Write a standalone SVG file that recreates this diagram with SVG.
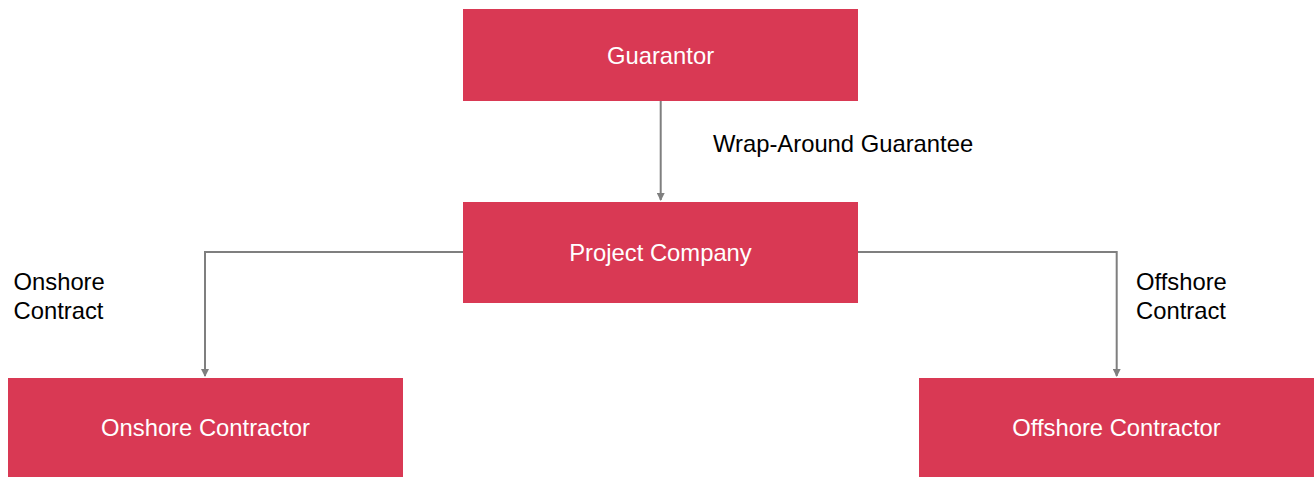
<svg xmlns="http://www.w3.org/2000/svg" width="1314" height="477" viewBox="0 0 1314 477">
<style>
.box{fill:#d93954}
.nt{font-family:"Liberation Sans",Arial,sans-serif;font-size:23.8px;fill:#ffffff;text-anchor:middle}
.lt{font-family:"Liberation Sans",Arial,sans-serif;font-size:23.8px;fill:#000000}
.ln{fill:none;stroke:#7f7f7f;stroke-width:2}
</style>
<defs>
<marker id="ah" viewBox="0 0 8 8" refX="7" refY="4" markerWidth="4" markerHeight="4" orient="auto" markerUnits="strokeWidth">
<path d="M0,0 L8,4 L0,8 Z" fill="#7f7f7f"/>
</marker>
</defs>
<rect width="1314" height="477" fill="#ffffff"/>
<g id="connectors">
<path class="ln" d="M660.7,101 V200" marker-end="url(#ah)"/>
<path class="ln" d="M463,252 H205 V376" marker-end="url(#ah)"/>
<path class="ln" d="M858,252 H1116.7 V376" marker-end="url(#ah)"/>
<text class="lt" x="713" y="151.5">Wrap-Around Guarantee</text>
<text class="lt" x="13.5" y="290">Onshore</text>
<text class="lt" x="13.5" y="319">Contract</text>
<text class="lt" x="1136" y="290">Offshore</text>
<text class="lt" x="1136" y="319">Contract</text>
</g>
<g id="guarantor">
<rect class="box" x="463" y="9" width="395" height="92"/>
<text class="nt" x="660.5" y="63.5">Guarantor</text>
</g>
<g id="project-company">
<rect class="box" x="463" y="202" width="395" height="101"/>
<text class="nt" x="660.5" y="260.7">Project Company</text>
</g>
<g id="onshore-contractor">
<rect class="box" x="8" y="378" width="395" height="99"/>
<text class="nt" x="205.5" y="435.7">Onshore Contractor</text>
</g>
<g id="offshore-contractor">
<rect class="box" x="919" y="378" width="395" height="99"/>
<text class="nt" x="1116.5" y="435.7">Offshore Contractor</text>
</g>
</svg>
